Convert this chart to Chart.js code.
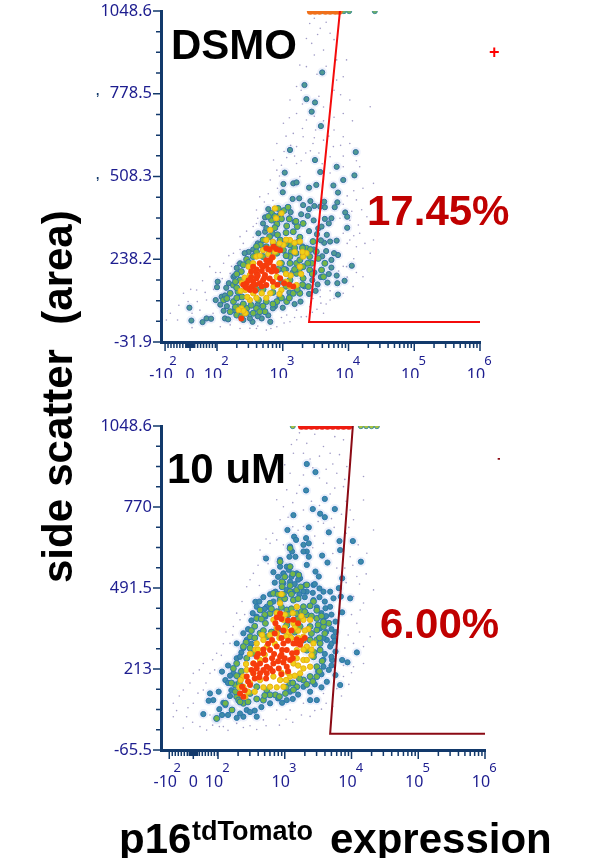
<!DOCTYPE html>
<html>
<head>
<meta charset="utf-8">
<title>p16 tdTomato flow plots</title>
<script src="https://cdn.jsdelivr.net/npm/chart.js@4/dist/chart.umd.min.js"></script>
<style>
    body { margin: 0; background: #fff; width: 591px; height: 858px; overflow: hidden; position: relative; }
    canvas { position: absolute; left: 0; }
    .big { position: absolute; font: bold 42px/42px "Liberation Sans", Arial, sans-serif; white-space: pre; z-index: 2; }
    .red { color: #c00000; }
</style>
</head>
<body>
<canvas id="dmsoChart" width="591" height="388" style="top:-10px"></canvas>
<canvas id="uMChart" width="591" height="458" style="top:400px"></canvas>

<div class="big" style="left:171px;top:23.5px">DSMO</div>
<div class="big red" style="left:367px;top:189.5px">17.45%</div>
<div class="big" style="left:167px;top:447.5px">10 uM</div>
<div class="big red" style="left:380px;top:602.5px">6.00%</div>
<div class="big" style="left:36.5px;top:583px;word-spacing:0.5px;transform:rotate(-90deg);transform-origin:0 0">side scatter  (area)</div>
<div class="big" style="left:119px;top:817.5px">p16</div>
<div class="big" style="left:192px;top:818px;font-size:27px;line-height:27px">tdTomato</div>
<div class="big" style="left:330px;top:817.5px">expression</div>
<div style="position:absolute;left:489px;top:42px;color:#f00;font:bold 18px 'Liberation Sans'">+</div>
<div style="position:absolute;left:497px;top:450px;width:3px;overflow:hidden;color:#8b0a14;font:bold 16px 'Liberation Sans'">+</div>
<div style="position:absolute;left:96px;top:84px;color:#12396b;font:bold 12px 'Liberation Sans'">,</div>
<div style="position:absolute;left:96px;top:168px;color:#12396b;font:bold 12px 'Liberation Sans'">,</div>

<script>
// 축 눈금
const xTickPosDmso = [1.21, 1.59, 2, 3, 4, 5, 6];
const xTickPosUM = [1.27, 1.63, 2, 3, 4, 5, 6];
const xTickBase = ['-10', '0', '10', '10', '10', '10', '10'];
const xTickExp = ['2', '', '2', '3', '4', '5', '6'];
const yTicksDmso = [-31.9, 238.2, 508.3, 778.5, 1048.6];
const yTicksUM = [-65.5, 213, 491.5, 770, 1048.6];

// gate 선
const gateXDmso = [6, 3.40, 3.87];
const gateYDmso = [33, 33, 1048.6];
const gateXUM = [6, 3.68, 4.02];
const gateYUM = [-10, -10, 1048.6];

// DSMO: [x 위치(decade), side scatter]
const dmsoRed = [[2.55,214],[2.65,225],[2.75,219],[2.86,214],[2.60,192],[2.73,187],[2.83,198],[2.45,160],[2.55,165],[2.65,160],[2.50,138],[2.75,154],[2.70,214],[2.96,176],[3.16,149],[2.86,279],[2.75,274],[2.96,268],[2.81,236],[2.60,176],[2.70,170],[2.53,149],[2.43,149],[2.37,45],
    [2.60,205],[2.68,200],[2.78,205],[2.90,200],[2.52,180],[2.62,185],[2.72,178],[2.80,175],[2.48,170],[2.40,155],[2.58,155],[2.68,150],[2.85,165],[2.92,155],[3.02,160],[3.10,155],[2.58,135],[2.68,218],[2.80,228],[2.52,198],[2.45,145],[2.80,270],[2.90,272],[2.84,245],[2.75,235]];
const dmsoYellow = [[2.98,388],[2.75,301],[2.83,274],[2.88,263],[2.70,268],[3.01,285],[3.11,301],[3.26,296],[3.36,258],[3.26,214],[3.31,247],[2.60,247],[2.48,214],[2.50,187],[2.43,138],[2.55,127],[2.68,127],[2.50,105],[2.37,78],[2.43,62],[2.98,138],[3.11,149],[3.21,154],[2.86,149],[2.91,181],[2.81,127],[2.88,404],[2.81,334],
    [2.90,372],[2.85,295],[2.95,290],[3.05,302],[3.18,292],[3.30,262],[3.18,262],[2.78,255],[2.65,250],[2.55,225],[2.42,178],[2.38,160],[2.36,135],[2.46,115],[2.60,112],[2.75,112],[2.95,125],[3.05,165],[3.12,185],[3.28,190],[3.05,190],[2.95,225],[2.85,245],[2.40,70],[2.33,72]];
const dmsoGreen = [[2.83,388],[2.93,404],[3.02,397],[3.08,408],[2.96,383],[2.83,366],[2.91,353],[3.06,347],[3.22,345],[3.31,355],[3.16,328],[3.26,310],[2.88,341],[2.70,301],[2.75,279],[2.86,290],[2.96,301],[3.11,285],[3.24,296],[3.36,274],[3.46,296],[3.01,268],[3.13,263],[3.31,252],[3.41,247],[3.51,263],[2.70,247],[2.45,238],[2.55,247],[2.37,198],[2.35,170],[2.25,154],[2.32,132],[2.20,127],[2.10,105],[2.25,100],[2.20,67],[2.32,83],[2.45,78],[2.60,78],[2.73,67],[2.75,100],[2.91,100],[3.06,100],[3.26,127],[3.39,149],[3.16,127],[3.31,176],[3.41,203],[3.31,214],[3.21,225],[3.59,203],[3.62,181],[2.98,225],[3.11,225],[3.11,170],[3.21,192],[3.26,236],[3.44,225],[3.54,241],[3.64,225],[2.63,105],[2.30,56],[2.37,51],[2.45,62],[2.65,67],[2.55,62],[3.11,247],[2.91,258],
    [2.78,378],[2.98,370],[2.88,378],[3.10,370],[3.20,362],[3.05,325],[2.92,318],[2.80,312],[2.66,285],[2.60,280],[2.80,262],[2.92,280],[3.05,290],[3.18,275],[3.30,275],[3.05,250],[3.20,258],[3.42,270],[2.60,262],[2.48,228],[2.40,220],[2.30,190],[2.28,165],[2.30,145],[2.38,115],[2.30,112],[2.15,110],[2.28,82],[2.40,92],[2.52,88],[2.70,85],[2.85,92],[2.98,112],[3.10,112],[3.22,140],[3.30,155],[3.45,190],[3.38,225],[3.25,205],[3.18,205],[3.02,205],[2.93,205],[3.05,150],[2.85,130],[2.70,140],[2.60,140]];
const dmsoBlue = [[3.60,848],[3.33,807],[3.36,761],[3.49,750],[3.44,720],[3.58,673],[3.11,595],[4.11,588],[3.49,562],[3.82,540],[3.57,523],[4.09,512],[3.03,521],[3.92,497],[3.01,484],[3.16,486],[3.21,489],[3.40,472],[3.51,481],[3.77,479],[3.00,457],[3.84,456],[3.15,435],[3.25,437],[3.42,428],[3.63,426],[3.83,424],[3.31,415],[3.64,408],[3.79,408],[3.57,410],[3.95,391],[3.98,377],[3.64,370],[3.74,372],[3.98,341],[3.54,339],[3.59,345],[2.63,323],[2.73,328],[3.72,296],[3.82,299],[3.63,292],[3.84,252],[3.74,236],[4.05,217],[3.74,211],[3.82,185],[3.94,168],[3.83,160],[3.68,162],[3.53,156],[3.84,123],[2.01,165],[2.00,147],[2.25,181],[1.58,80],[1.61,38],[1.78,33],[1.84,45],[1.91,44],[2.12,45],[2.17,42],[1.98,105],[2.81,34],[2.68,45],[2.54,34],[2.07,116],[2.30,62],
    [3.38,380],[3.47,365],[3.70,355],[3.52,320],[3.67,318],[3.40,330],[3.58,300],[3.47,270],[3.66,265],[3.60,248],[3.78,258],[3.70,190],[3.58,180],[3.48,195],[3.45,170],[3.40,125],[3.50,135],[3.27,100],[3.18,92],[3.00,80],[2.88,85],[2.95,115],[3.33,150],[3.15,195],[3.05,205],[3.30,280],[3.18,360],[3.10,372],[3.28,385],[3.40,402],[3.48,412],[3.12,392],[2.75,340],[2.70,355],[2.78,402],[2.73,375],[2.85,322],[2.62,290],[2.55,270],[2.48,262],[2.42,258],[2.35,225],[2.30,210],[2.27,185],[2.18,160],[2.14,145],[2.12,120],[2.05,90],[2.10,70],[2.15,85],[2.27,72],[2.40,40],[2.50,45],[2.62,52],[2.78,55],[2.85,78],[2.62,90],[2.98,165],[3.10,130]];
const dmsoSpeck = [[3.41,1008],[3.57,992],[3.72,976],[3.36,959],[3.44,943],[3.62,921],[3.82,889],[3.97,889],[3.26,872],[3.36,867],[3.82,823],[3.92,834],[3.21,802],[3.11,758],[4.33,736],[4.02,758],[3.92,714],[3.21,714],[3.36,693],[3.01,682],[3.16,649],[3.31,638],[3.62,627],[3.92,638],[2.91,616],[3.21,606],[3.46,616],[3.77,606],[4.02,616],[2.86,562],[3.21,551],[3.72,573],[4.17,540],[2.91,529],[3.26,508],[4.38,486],[2.81,497],[2.65,442],[2.60,399],[2.70,377],[4.12,432],[4.28,377],[4.17,323],[2.55,345],[2.35,312],[2.25,258],[4.12,279],[4.33,258],[1.89,214],[2.10,225],[1.69,138],[1.49,127],[1.29,62],[1.23,40],[1.84,105],[1.74,72],[3.97,214],[4.22,181],[4.07,149],[3.92,127],[3.57,116],[3.72,105],[3.41,83],[3.21,72],[3.06,56],[2.91,18],[2.75,7],[2.50,13],[2.20,24],[3.57,138],[3.36,51],[3.11,34],[3.62,62],[1.94,62],[2.30,225],[2.20,192],[3.92,323],[4.02,301],[4.38,301],[3.87,372],
    [3.48,1025],[3.66,1012],[3.53,972],[3.78,955],[3.48,905],[3.66,868],[3.52,842],[3.78,790],[3.28,790],[3.88,775],[3.30,745],[3.62,735],[3.78,702],[4.06,690],[3.10,700],[3.50,660],[3.78,660],[3.05,640],[3.42,592],[3.66,590],[3.92,575],[4.12,560],[3.06,570],[3.28,560],[3.60,550],[2.98,545],[4.22,470],[2.92,470],[2.78,452],[2.72,425],[4.08,462],[4.20,400],[2.62,372],[4.05,395],[2.45,330],[4.15,350],[2.40,290],[4.25,290],[2.18,250],[2.05,195],[4.08,240],[1.98,195],[1.78,168],[1.60,140],[4.12,195],[1.56,100],[1.42,88],[3.98,180],[1.40,40],[3.78,110],[3.66,92],[3.52,75],[3.28,50],[3.02,30],[2.82,12],[2.62,20],[2.35,12],[2.05,18],[1.62,15],[3.46,110],
    [3.38,760],[3.55,770],[3.48,705],[3.62,690],[3.30,665],[3.48,635],[3.70,640],[3.12,610],[3.35,585],[3.55,585],[3.02,590],[3.88,610],[3.18,575],[3.72,520],[3.92,540],[2.95,510],[3.62,500],[3.98,445],[2.85,430],[3.92,418],[2.60,355],[4.02,365],[2.55,310],[4.08,315],[2.35,270],[3.98,290],[2.22,215],[3.92,215],[2.08,175],[1.95,140],[3.85,200],[3.72,135],[1.82,130],[3.58,95],[1.70,100],[3.45,65],[1.62,62],[3.18,48],[2.98,48],[2.60,12]];
const dmsoBandHot = [[3.42,1048],[3.49,1048],[3.56,1048],[3.65,1048],[3.72,1048],[3.80,1048],[3.86,1048]];
const dmsoBandCool = [[3.46,1048],[3.60,1048],[3.76,1048],[3.93,1048],[4.01,1048],[4.40,1048]];

// 10 uM
const uMRed = [[2.93,404],[2.86,370],[3.13,382],[2.81,313],[2.98,301],[3.13,301],[3.03,278],[2.78,278],[2.68,267],[2.58,255],[2.53,232],[2.63,232],[2.73,221],[2.83,232],[2.93,255],[3.08,244],[3.18,301],[2.91,215],[3.03,221],[2.53,198],[2.43,187],[2.63,198],[2.48,158],[2.36,152],[2.33,129],[2.73,198],[2.81,250],[2.96,278],[3.23,296],[3.11,267],[2.71,244],[2.58,215],
    [2.88,390],[2.95,385],[3.05,380],[3.20,370],[2.90,355],[2.85,335],[2.95,320],[3.05,310],[3.18,315],[3.25,310],[2.88,290],[2.95,262],[3.00,250],[3.12,250],[3.18,270],[2.90,240],[2.98,235],[2.78,215],[2.68,210],[2.58,225],[2.50,210],[2.55,180],[2.45,170],[2.40,140],[2.38,118],[2.62,185],[2.72,180],[2.82,205],[2.95,195],[3.05,205],[3.30,320],[2.75,300],[2.68,280],[2.60,265],[3.10,345],[2.98,345],[2.84,265]];
const uMYellow = [[2.93,439],[2.83,382],[2.98,382],[3.13,370],[3.28,382],[3.18,427],[3.38,382],[2.88,336],[2.68,313],[2.58,301],[3.08,324],[3.28,324],[3.33,290],[3.43,301],[3.18,278],[3.28,244],[3.38,221],[3.23,198],[3.08,187],[2.93,175],[2.78,152],[2.63,175],[2.48,164],[2.38,152],[2.41,118],[2.53,198],[2.63,244],[2.53,232],[2.43,210],[2.38,187],[3.13,232],[3.33,244],[2.98,152],[2.83,187],[2.73,290],
    [2.88,405],[3.00,400],[3.12,405],[3.25,395],[3.35,350],[3.20,345],[3.05,340],[2.92,320],[2.78,330],[2.66,330],[2.56,280],[2.48,265],[2.42,230],[2.34,175],[2.32,150],[2.45,135],[2.55,135],[2.68,150],[2.88,150],[3.02,175],[3.15,190],[3.28,215],[3.40,260],[3.40,280],[3.28,280],[3.18,250],[3.20,225],[3.05,200],[2.95,200],[2.70,262],[2.60,280],[2.88,355],[3.00,355],[3.15,355],[3.30,345],[3.10,320],[3.20,320],[2.85,300],[3.02,325],[2.95,470]];
const uMGreen = [[3.08,628],[2.93,582],[3.08,565],[3.21,536],[2.96,513],[3.08,479],[2.83,473],[2.96,496],[3.33,502],[3.13,450],[3.28,427],[3.43,445],[2.58,387],[2.71,370],[2.78,404],[2.88,410],[3.03,416],[3.18,404],[3.33,399],[3.48,387],[3.58,359],[3.66,370],[2.48,324],[2.63,336],[2.73,324],[2.88,347],[3.03,364],[3.23,359],[3.38,359],[3.48,313],[3.53,278],[3.43,255],[3.48,221],[3.48,187],[3.38,187],[3.28,175],[3.18,152],[3.08,164],[3.01,129],[2.86,124],[2.73,141],[2.58,152],[2.48,129],[2.38,95],[2.28,118],[2.26,158],[2.23,215],[2.28,232],[2.43,250],[2.53,267],[2.31,187],[2.11,95],[2.21,72],[2.31,106],[1.98,43],[2.68,106],[2.78,124],[3.33,278],[3.38,313],[3.28,313],[2.93,450],[2.78,439],[2.63,416],[3.48,347],[3.53,301],[3.13,141],
    [2.90,470],[3.00,455],[3.10,470],[3.20,455],[3.38,430],[3.48,415],[3.55,395],[3.25,410],[3.10,420],[2.95,425],[2.80,420],[2.70,400],[2.65,385],[2.55,360],[2.50,345],[2.55,320],[2.42,305],[2.38,290],[2.48,285],[2.35,205],[2.28,190],[2.20,165],[2.32,165],[2.26,135],[2.33,100],[2.45,100],[2.58,110],[2.70,122],[2.92,118],[3.02,150],[3.12,165],[3.22,180],[3.33,160],[3.42,170],[3.52,205],[3.56,240],[3.44,270],[3.52,320],[3.60,335],[3.40,335],[3.15,340],[2.98,345],[2.80,340],[2.68,345],[3.50,365],[3.58,375],[3.05,400],[2.92,400],[3.20,385],[3.40,395],[3.30,410],[2.98,470],[3.08,500],[3.18,485],[3.00,530],[3.12,540],[3.24,495]];
const uMBlue = [[3.33,918],[3.46,890],[3.32,827],[3.60,798],[3.42,763],[3.75,763],[3.53,747],[3.60,735],[3.13,742],[3.36,700],[3.04,691],[3.66,683],[3.14,668],[3.17,657],[3.32,663],[3.82,653],[4.02,653],[3.08,634],[3.28,640],[3.36,645],[3.83,622],[3.33,617],[3.28,617],[3.11,617],[2.72,593],[2.93,588],[3.07,599],[3.16,599],[3.36,599],[3.56,603],[4.14,582],[3.64,579],[3.33,571],[3.03,565],[2.93,565],[2.83,546],[3.06,554],[2.98,542],[3.18,542],[3.23,525],[3.46,548],[3.51,531],[3.86,525],[2.98,508],[3.08,513],[3.31,502],[3.43,502],[3.58,479],[3.68,479],[3.81,491],[2.86,479],[3.03,485],[3.13,479],[3.33,479],[3.98,456],[2.56,444],[3.73,456],[3.84,462],[2.83,445],[2.93,450],[3.43,450],[2.58,427],[2.73,427],[3.61,422],[3.68,427],[3.86,408],[2.58,393],[2.71,393],[3.76,376],[3.58,382],[3.53,353],[2.38,336],[2.43,313],[2.28,301],[3.63,313],[3.73,324],[3.68,290],[4.08,270],[3.76,273],[3.71,244],[3.86,244],[3.94,236],[3.58,221],[3.66,210],[3.76,192],[3.63,169],[3.83,158],[3.28,152],[3.38,106],[3.48,106],[3.08,135],[2.96,97],[3.03,106],[1.88,129],[2.01,135],[1.93,106],[1.86,104],[1.78,58],[1.98,43],[2.06,55],[2.21,72],[2.08,97],[2.11,89],[2.38,49],[2.58,49],[2.43,72],[2.23,198],[2.11,175],[2.06,204],[2.28,250],
    [2.98,540],[3.10,530],[3.20,520],[2.90,530],[2.85,510],[3.15,505],[3.28,480],[3.42,475],[3.52,460],[3.60,445],[3.70,400],[3.62,395],[3.70,350],[3.76,340],[3.62,340],[3.58,320],[3.70,255],[3.60,265],[3.58,245],[3.55,195],[3.50,205],[3.45,160],[3.55,150],[3.38,135],[3.20,125],[3.12,110],[2.90,112],[2.78,95],[2.65,82],[2.55,70],[2.48,65],[2.33,60],[2.28,45],[2.15,55],[2.02,75],[2.18,120],[2.20,140],[2.15,165],[2.18,190],[2.15,225],[2.35,270],[2.38,285],[2.33,255],[2.50,300],[2.45,350],[2.50,380],[2.52,405],[2.62,445],[2.68,460],[2.78,470],[2.70,420],[3.48,425],[3.55,405],[3.45,505],[3.52,490],[3.70,300],[3.75,310],[3.70,225],[3.22,470],[3.30,460]];
const uMSpeck = [[3.18,1001],[3.33,989],[3.58,978],[3.88,1001],[3.13,955],[3.28,955],[3.68,955],[3.98,932],[3.08,886],[3.78,886],[3.93,909],[4.18,875],[3.03,829],[3.18,817],[3.63,852],[3.88,840],[4.18,794],[2.98,771],[3.28,760],[3.98,760],[2.93,726],[3.28,703],[3.58,714],[4.03,726],[4.33,691],[2.88,657],[3.58,645],[3.98,599],[2.63,622],[2.78,645],[4.23,611],[4.08,531],[4.33,485],[2.53,542],[2.43,496],[4.03,462],[4.13,416],[2.33,382],[2.23,359],[4.08,370],[4.28,324],[2.18,301],[1.98,267],[4.03,301],[1.78,232],[1.63,198],[1.88,198],[1.48,141],[1.33,95],[1.63,95],[1.33,49],[1.53,49],[1.78,141],[1.73,15],[2.08,15],[2.28,26],[2.68,38],[2.88,72],[3.08,72],[3.28,95],[3.58,129],[3.88,187],[4.03,221],[4.18,232],[1.83,3],
    [3.22,1025],[3.45,1020],[3.75,1012],[3.10,985],[3.52,945],[3.82,950],[3.00,915],[3.42,905],[3.72,918],[3.90,865],[2.95,860],[3.28,880],[3.68,815],[3.92,790],[2.88,795],[3.12,785],[3.52,775],[3.70,730],[3.96,700],[2.82,680],[3.12,702],[3.45,670],[3.74,700],[3.92,680],[4.10,640],[2.72,660],[2.68,600],[3.42,630],[3.78,560],[4.02,570],[4.22,540],[2.60,570],[2.48,520],[2.36,445],[4.12,505],[2.28,405],[4.18,440],[2.12,340],[4.12,340],[2.08,300],[4.18,290],[1.92,245],[1.72,210],[1.58,165],[1.42,120],[1.38,70],[4.00,200],[3.96,160],[3.85,120],[3.72,85],[3.55,75],[3.38,50],[3.12,30],[2.92,20],[2.58,5],[2.38,12],[2.15,2],[1.92,20],[1.62,30],[1.48,10],
    [3.38,935],[3.62,900],[3.52,870],[3.22,845],[3.75,835],[3.40,790],[3.85,745],[3.05,735],[3.50,720],[3.20,690],[2.98,640],[3.72,610],[3.90,560],[2.75,575],[3.92,510],[2.62,500],[4.00,400],[2.40,400],[3.95,330],[2.22,330],[3.90,285],[2.05,260],[3.88,225],[1.95,210],[1.82,165],[1.70,130],[3.78,145],[1.55,80],[3.62,95],[1.88,55],[3.45,70],[2.02,15],[3.25,55],[2.72,18],[2.48,18],[3.02,40]];
const uMBandHot = [[3.25,1048],[3.32,1048],[3.40,1048],[3.48,1048],[3.56,1048],[3.64,1048],[3.72,1048],[3.80,1048],[3.88,1048],[3.96,1048]];
const uMBandCool = [[3.12,1048],[4.14,1048],[4.22,1048],[4.30,1048],[4.38,1048]];

const navy = '#12396b';
const tickText = '#1d1d8f';
const halo = 'rgba(175,185,235,0.22)';
const speck = 'rgba(96,88,160,0.6)';

function dots(points, fill, edge, radius) {
    return {
        data: points,
        showLine: false,
        pointRadius: radius,
        pointBackgroundColor: fill,
        pointBorderColor: edge,
        pointBorderWidth: edge === fill ? 0 : 1
    };
}

// 비선형 x축 눈금 (큰 눈금 + 작은 눈금)
function buildXTicks(positions) {
    const ticks = positions.map(v => ({ value: v, major: true }));
    for (let v = positions[0] + 0.045; v < 2; v += 0.045) ticks.push({ value: v });
    for (let v = positions[1] - 0.06; v < positions[1] + 0.06; v += 0.015) ticks.push({ value: v });
    for (let n = 2; n < 6; n++) {
        for (let k = 2; k < 10; k++) ticks.push({ value: n + Math.log10(k) });
    }
    return ticks.sort((a, b) => a.value - b.value);
}

function buildYTicks(majors) {
    const ticks = [];
    for (let i = 0; i < majors.length - 1; i++) {
        const step = (majors[i + 1] - majors[i]) / 4;
        ticks.push({ value: majors[i], major: true });
        for (let j = 1; j < 4; j++) ticks.push({ value: majors[i] + step * j });
    }
    ticks.push({ value: majors[majors.length - 1], major: true });
    return ticks;
}

function makeChart(id, cfg) {
    // 눈금선과 x축 라벨을 직접 그린다 (윗첨자 때문에)
    const axisMarks = {
        id: 'axisMarks',
        afterDraw(chart) {
            const c = chart.ctx;
            const xs = chart.scales.x;
            const ys = chart.scales.y;
            const area = chart.chartArea;
            c.save();
            c.strokeStyle = navy;
            c.lineWidth = 1.5;
            c.beginPath();
            xs.ticks.forEach(t => {
                const px = xs.getPixelForValue(t.value);
                c.moveTo(px, area.bottom);
                c.lineTo(px, area.bottom + (t.major ? 9 : 6));
            });
            ys.ticks.forEach(t => {
                const py = ys.getPixelForValue(t.value);
                c.moveTo(area.left, py);
                c.lineTo(area.left - (t.major ? 8 : 5), py);
            });
            c.stroke();

            c.fillStyle = tickText;
            c.textAlign = 'center';
            c.textBaseline = 'alphabetic';
            cfg.xPos.forEach((v, i) => {
                const px = xs.getPixelForValue(v);
                c.font = '16px "Noto Sans"';
                c.fillText(xTickBase[i], xTickExp[i] ? px - 4 : px, cfg.labelY);
                if (xTickExp[i]) {
                    c.font = '13px "Noto Sans"';
                    c.fillText(xTickExp[i], px + 8, cfg.labelY - 15);
                }
            });
            c.restore();
        }
    };

    return new Chart(document.getElementById(id), {
        type: 'scatter',
        data: { datasets: cfg.datasets },
        plugins: [axisMarks],
        options: {
            responsive: false,
            animation: false,
            layout: { autoPadding: false, padding: { top: cfg.top, right: cfg.right, left: 0, bottom: 0 } },
            plugins: { legend: { display: false }, tooltip: { enabled: false } },
            scales: {
                x: {
                    type: 'linear',
                    min: cfg.xMin,
                    max: 6,
                    afterBuildTicks: s => { s.ticks = buildXTicks(cfg.xPos); },
                    afterFit: s => { s.height = cfg.xHeight; },
                    grid: { display: false },
                    border: { color: navy, width: 3 },
                    ticks: { display: false, autoSkip: false }
                },
                y: {
                    min: cfg.yMajors[0],
                    max: cfg.yMajors[cfg.yMajors.length - 1],
                    afterBuildTicks: s => { s.ticks = buildYTicks(cfg.yMajors); },
                    afterFit: s => { s.width = 161; },
                    grid: { display: false },
                    border: { color: navy, width: 3 },
                    ticks: {
                        autoSkip: false,
                        padding: 1,
                        color: tickText,
                        font: { family: '"Noto Sans"', size: 16.5 },
                        callback: (value, i, ticks) => ticks[i].major ? String(value) : ''
                    }
                }
            }
        }
    });
}

const blueRim = '#2a76ad';

makeChart('dmsoChart', {
    top: 21, right: 111, xHeight: 36, xMin: 1.148, labelY: 390,
    xPos: xTickPosDmso,
    yMajors: yTicksDmso,
    datasets: [
        { data: gateXDmso.map((x, i) => [x, gateYDmso[i]]), showLine: true, borderColor: '#f40b0b', borderWidth: 2, pointRadius: 0 },
        dots(dmsoRed, '#f63c0c', '#f63c0c', 3),
        dots(dmsoYellow, '#f0d018', '#e8b015', 2.7),
        dots(dmsoBandHot, '#f0701a', '#f0701a', 3.5),
        dots(dmsoGreen, '#73b648', blueRim, 3),
        dots(dmsoBandCool, '#6fae6a', '#3f8f9b', 2.5),
        dots(dmsoBlue, '#4f9a93', '#336f9f', 2.6),
        dots(dmsoSpeck, speck, speck, 0.8),
        dots(dmsoGreen, halo, halo, 6),
        dots(dmsoBlue, halo, halo, 5)
    ]
});

makeChart('uMChart', {
    top: 26, right: 106, xHeight: 108, xMin: 1.146, labelY: 387,
    xPos: xTickPosUM,
    yMajors: yTicksUM,
    datasets: [
        { data: gateXUM.map((x, i) => [x, gateYUM[i]]), showLine: true, borderColor: '#8b0a14', borderWidth: 2, pointRadius: 0 },
        dots(uMRed, '#f63c0c', '#f63c0c', 3),
        dots(uMYellow, '#f0d018', '#e8b015', 2.7),
        dots(uMBandHot, '#ee1c10', '#ee1c10', 3.5),
        dots(uMGreen, '#73b648', blueRim, 3),
        dots(uMBandCool, '#a9c23f', '#3f8f9b', 2.5),
        dots(uMBlue, '#3f8aa8', '#2a76ad', 2.6),
        dots(uMSpeck, speck, speck, 0.8),
        dots(uMGreen, halo, halo, 6),
        dots(uMBlue, halo, halo, 5)
    ]
});
</script>
</body>
</html>
